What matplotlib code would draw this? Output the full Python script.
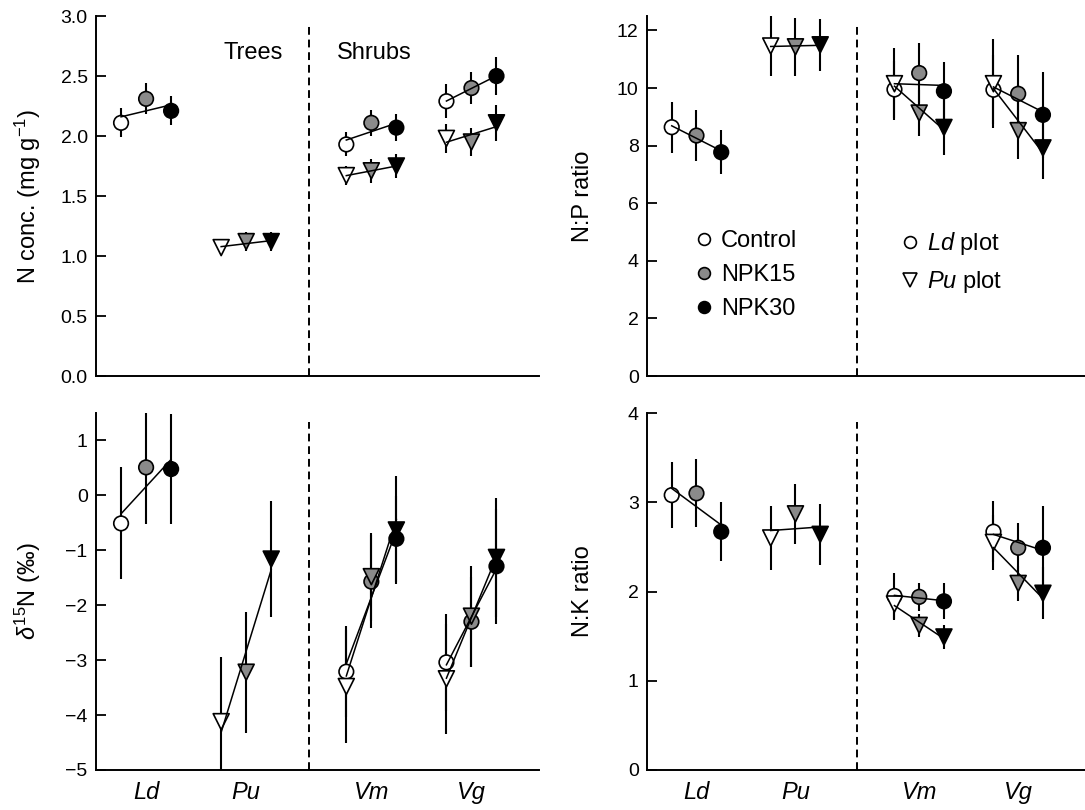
import numpy as np
import matplotlib
matplotlib.use('Agg')
import matplotlib.pyplot as plt
from matplotlib.lines import Line2D

plt.rcParams['font.family'] = ['Liberation Sans', 'DejaVu Sans']
plt.rcParams['mathtext.fontset'] = 'custom'
plt.rcParams['mathtext.rm'] = 'Liberation Sans'
plt.rcParams['mathtext.it'] = 'Liberation Sans:italic'
plt.rcParams['mathtext.bf'] = 'Liberation Sans:bold'

species = ['Ld', 'Pu', 'Vm', 'Vg']
treatments = ['Control', 'NPK15', 'NPK30']
circ_species = ['Ld', 'Vm', 'Vg']   # Ld plot
tri_species = ['Pu', 'Vm', 'Vg']    # Pu plot

# N concentration (mg/g)
nconc_circ = [[2.11, 2.31, 2.21], [1.93, 2.11, 2.07], [2.29, 2.40, 2.50]]
nconc_circ_err = [[0.12, 0.13, 0.12], [0.10, 0.11, 0.11], [0.14, 0.13, 0.16]]
nconc_tri = [[1.07, 1.12, 1.12], [1.67, 1.71, 1.75], [1.98, 1.95, 2.11]]
nconc_tri_err = [[0.05, 0.08, 0.08], [0.08, 0.10, 0.10], [0.12, 0.12, 0.15]]

# N:P ratio
np_circ = [[8.64, 8.35, 7.77], [9.95, 10.52, 9.89], [9.94, 9.80, 9.07]]
np_circ_err = [[0.89, 0.90, 0.77], [1.00, 1.03, 1.00], [1.20, 1.36, 1.50]]
np_tri = [[11.46, 11.43, 11.50], [10.15, 9.13, 8.63], [10.15, 8.52, 7.92]]
np_tri_err = [[1.05, 1.00, 0.90], [1.25, 0.80, 0.96], [1.55, 1.00, 1.08]]

# delta 15N (permil)
d15n_circ = [[-0.51, 0.51, 0.48], [-3.21, -1.57, -0.79], [-3.04, -2.30, -1.29]]
d15n_circ_err = [[1.02, 1.03, 1.00], [0.83, 0.85, 0.78], [0.88, 0.82, 1.05]]
d15n_tri = [[-4.12, -3.22, -1.16], [-3.48, -1.48, -0.63], [-3.34, -2.20, -1.13]]
d15n_tri_err = [[1.17, 1.10, 1.05], [1.02, 0.80, 0.99], [1.00, 0.92, 1.08]]

# N:K ratio
nk_circ = [[3.08, 3.10, 2.67], [1.95, 1.94, 1.89], [2.67, 2.49, 2.49]]
nk_circ_err = [[0.37, 0.38, 0.33], [0.26, 0.16, 0.20], [0.34, 0.28, 0.47]]
nk_tri = [[2.60, 2.87, 2.64], [1.86, 1.62, 1.49], [2.55, 2.09, 1.98]]
nk_tri_err = [[0.36, 0.34, 0.34], [0.18, 0.13, 0.13], [0.31, 0.20, 0.29]]

# layout
base = {'Ld': 0, 'Pu': 4, 'Vm': 9, 'Vg': 13}
fills = ['white', '#8a8a8a', 'black']


def draw_series(ax, names, means, errs, marker, ms):
    for name, m, e in zip(names, means, errs):
        x = base[name] + np.arange(3)
        m = np.asarray(m)
        e = np.asarray(e)
        ax.vlines(x, m - e, m + e, color='k', lw=1.5, zorder=1)
        ax.scatter(x, m, s=ms ** 2, c=fills, edgecolors='k', linewidths=1.2,
                   marker=marker, zorder=2)
        # linear trend across fertiliser levels
        slope, icpt = np.polyfit(x, m, 1)
        xe = x[[0, -1]]
        ax.plot(xe, icpt + slope * xe, color='k', lw=1.1, zorder=3)


def style_axes(ax, ylim, yticks, ylabel, show_x, fmt=None):
    ax.set_xlim(-1, 16.7)
    ax.set_ylim(*ylim)
    for s in ['top', 'right']:
        ax.spines[s].set_visible(False)
    for s in ['left', 'bottom']:
        ax.spines[s].set_linewidth(1.4)
    ax.set_yticks(yticks)
    if fmt:
        ax.set_yticklabels([fmt % v for v in yticks])
    ax.tick_params(axis='y', direction='in', length=7, width=1.3,
                   labelsize=14, pad=6)
    ax.tick_params(axis='x', length=0, labelsize=17, pad=8)
    ax.set_xticks([base[s] + 1 for s in species])
    if show_x:
        ax.set_xticklabels(species, fontstyle='italic')
    else:
        ax.set_xticklabels([])
    ax.axvline(7.5, ymax=0.975, color='k', lw=1.4, ls=(0, (4, 2.5)))
    ax.set_ylabel(ylabel, fontsize=17)
    ax.yaxis.set_label_coords(-0.12, 0.5)


fig = plt.figure(figsize=(10.85, 8.1), dpi=100)
ax_n = fig.add_axes([0.0885, 0.5358, 0.4083, 0.4444])
ax_np = fig.add_axes([0.5963, 0.5358, 0.4037, 0.4444])
ax_d = fig.add_axes([0.0885, 0.0494, 0.4083, 0.4407])
ax_nk = fig.add_axes([0.5963, 0.0494, 0.4037, 0.4407])

panels = [
    (ax_n, nconc_circ, nconc_circ_err, nconc_tri, nconc_tri_err),
    (ax_np, np_circ, np_circ_err, np_tri, np_tri_err),
    (ax_d, d15n_circ, d15n_circ_err, d15n_tri, d15n_tri_err),
    (ax_nk, nk_circ, nk_circ_err, nk_tri, nk_tri_err),
]
for ax, c, ce, t, te in panels:
    draw_series(ax, circ_species, c, ce, 'o', 10.5)
    draw_series(ax, tri_species, t, te, 'v', 11.5)

style_axes(ax_n, (0, 3.0), np.arange(0, 3.01, 0.5), 'N conc. (mg g$^{-1}$)', False, '%.1f')
style_axes(ax_np, (0, 12.5), np.arange(0, 13, 2), 'N:P ratio', False)
style_axes(ax_d, (-5, 1.5), np.arange(-5, 2, 1), '$\\delta^{15}$N (‰)', True)
style_axes(ax_nk, (0, 4), np.arange(0, 5, 1), 'N:K ratio', True)

ax_n.text(5.26, 2.69, 'Trees', ha='center', va='center', fontsize=17)
ax_n.text(10.1, 2.69, 'Shrubs', ha='center', va='center', fontsize=17)

h1 = [Line2D([], [], ls='none', marker='o', ms=8.5, mfc=f, mec='k', mew=1.2)
      for f in fills]
leg1 = ax_np.legend(h1, treatments, loc='upper left', bbox_to_anchor=(0.112, 0.405),
                    frameon=False, fontsize=17, handlelength=0.7, handletextpad=0.35,
                    borderpad=0, borderaxespad=0, labelspacing=0.5)
ax_np.add_artist(leg1)
h2 = [Line2D([], [], ls='none', marker='o', ms=8.5, mfc='white', mec='k', mew=1.2),
      Line2D([], [], ls='none', marker='v', ms=10, mfc='white', mec='k', mew=1.2)]
ax_np.legend(h2, ['$\\mathit{Ld}$ plot', '$\\mathit{Pu}$ plot'], loc='upper left',
             bbox_to_anchor=(0.582, 0.405), frameon=False, fontsize=17,
             handlelength=0.7, handletextpad=0.35, borderpad=0, borderaxespad=0,
             labelspacing=0.5)

fig.savefig('out.png', dpi=100)
